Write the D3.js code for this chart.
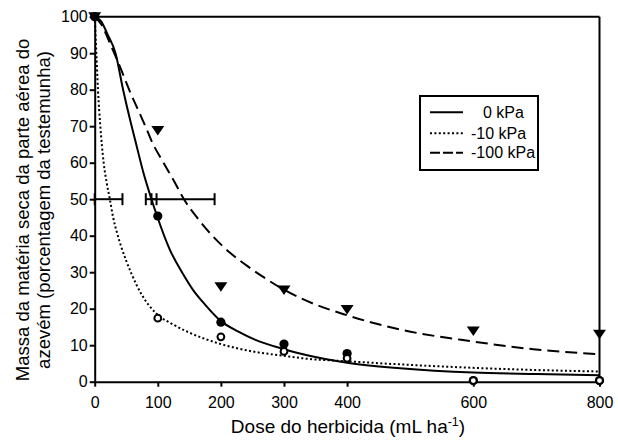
<!DOCTYPE html>
<html>
<head>
<meta charset="utf-8">
<script src="https://cdn.jsdelivr.net/npm/d3@7"></script>
<style>
  html, body { margin: 0; padding: 0; background: #fff; }
  svg { display: block; font-family: Arial, "Liberation Sans", sans-serif; }
</style>
</head>
<body>
<svg id="chart" width="618" height="444"></svg>
<script>
// ---- data ----
const doses = [0, 100, 200, 300, 400, 600, 800];
const obs0kPa = [100, 45.4, 16.3, 10.3, 7.7, 0.3, 0.3];      // filled circles
const obs10kPa = [100, 17.4, 12.3, 8.3, 6.4, 0.3, 0.3];      // open circles
const obs100kPa = [100, 68.8, 26.0, 25.1, 19.8, 13.9, 13.0]; // filled triangles

// fitted curves
const curve0X = [0, 10, 20, 33, 45, 58, 64, 77, 90, 98, 119, 140, 156, 174, 200, 227, 253, 300, 330, 400, 484, 600, 700, 800];
const curve0Y = [100, 98.8, 95.3, 90, 80, 70.4, 66.3, 57.4, 50, 45.8, 36.2, 29.5, 25.1, 21.3, 16.6, 13.8, 11.6, 8.9, 7.5, 5.2, 3.7, 2.5, 2.1, 1.8];
const curve10X = [0, 2.6, 5.2, 8.9, 14.2, 19, 24, 29, 35, 42, 58, 74, 98, 123, 148, 200, 253, 300, 330, 400, 500, 600, 700, 800];
const curve10Y = [100, 90, 80, 70, 60, 54.5, 50, 45.2, 41, 37, 29.7, 24, 18.6, 15.8, 13.6, 10.3, 8.2, 7.1, 6.4, 5.6, 4.6, 3.8, 3.2, 2.8];
const curve100X = [0, 10, 26, 40, 57, 70, 82, 90, 109, 125, 140, 162, 188, 214, 241, 267, 294, 330, 400, 484, 600, 695, 800];
const curve100Y = [100, 98, 92, 86.3, 79, 74, 69.3, 66, 60, 55.2, 50.4, 45, 39.7, 35.4, 31.8, 28.7, 25.8, 22.6, 18.2, 14.3, 11, 8.9, 7.5];

// ED50 confidence intervals drawn at 50 %
const ciLow = [0, 81, 90];
const ciHigh = [44, 98, 190];
const ciLevel = 50;

const xTicks = [0, 100, 200, 300, 400, 600, 800];
const yTicks = [0, 10, 20, 30, 40, 50, 60, 70, 80, 90, 100];
const legendLabels = ["0 kPa", "-10 kPa", "-100 kPa"];

// ---- drawing ----
const svg = d3.select("#chart");
const x = d3.scaleLinear().domain([0, 800]).range([94.7, 599.5]);
const y = d3.scaleLinear().domain([0, 100]).range([381.7, 16.7]);

// axes
const yAxis = svg.append("g").attr("transform", `translate(${x(0)},0)`)
  .call(d3.axisLeft(y).tickValues(yTicks).tickSize(5).tickSizeOuter(0).tickPadding(2));
const xAxis = svg.append("g").attr("transform", `translate(0,${y(0)})`)
  .call(d3.axisBottom(x).tickValues(xTicks).tickSize(5).tickSizeOuter(0).tickPadding(10));
[yAxis, xAxis].forEach(g => {
  g.select(".domain").attr("stroke", "#000").attr("stroke-width", 2);
  g.selectAll(".tick line").attr("stroke", "#000").attr("stroke-width", 2);
  g.selectAll(".tick text").attr("fill", "#000").style("font-size", "16px")
   .style("font-family", "Arial, 'Liberation Sans', sans-serif");
});

// frame top & right
svg.append("line").attr("x1", x(0)).attr("x2", x(800)).attr("y1", y(100)).attr("y2", y(100))
  .attr("stroke", "#000").attr("stroke-width", 2);
svg.append("line").attr("x1", x(800)).attr("x2", x(800)).attr("y1", y(100)).attr("y2", y(0))
  .attr("stroke", "#000").attr("stroke-width", 2);

// curves
const line = d3.line().x(d => x(d[0])).y(d => y(d[1])).curve(d3.curveMonotoneX);
const curves = [
  { xs: curve0X, ys: curve0Y, dash: null },
  { xs: curve10X, ys: curve10Y, dash: "2,2.4" },
  { xs: curve100X, ys: curve100Y, dash: "12,6" }
];
curves.forEach(c => {
  svg.append("path").datum(c.xs.map((v, i) => [v, c.ys[i]]))
    .attr("d", line).attr("fill", "none").attr("stroke", "#000").attr("stroke-width", 2)
    .attr("stroke-dasharray", c.dash);
});

// confidence intervals
ciLow.forEach((lo, i) => {
  const g = svg.append("g");
  const yy = y(ciLevel);
  g.append("line").attr("x1", x(lo)).attr("x2", x(ciHigh[i])).attr("y1", yy).attr("y2", yy)
    .attr("stroke", "#000").attr("stroke-width", 2);
  [lo, ciHigh[i]].forEach(v => {
    g.append("line").attr("x1", x(v)).attr("x2", x(v)).attr("y1", yy - 6).attr("y2", yy + 6)
      .attr("stroke", "#000").attr("stroke-width", 2);
  });
});

// markers
const tri = "M-6.5,-4.5L6.5,-4.5L0,5Z";
svg.append("g").selectAll("path").data(doses.map((d, i) => [d, obs100kPa[i]])).join("path")
  .attr("d", tri).attr("transform", d => `translate(${x(d[0])},${y(d[1])})`).attr("fill", "#000");
svg.append("g").selectAll("circle").data(doses.map((d, i) => [d, obs0kPa[i]])).join("circle")
  .attr("cx", d => x(d[0])).attr("cy", d => y(d[1])).attr("r", 4.6).attr("fill", "#000");
svg.append("g").selectAll("circle").data(doses.map((d, i) => [d, obs10kPa[i]]).filter(d => d[0] > 0)).join("circle")
  .attr("cx", d => x(d[0])).attr("cy", d => y(d[1])).attr("r", 3.4).attr("fill", "#fff")
  .attr("stroke", "#000").attr("stroke-width", 2);

// legend
const lg = svg.append("g");
lg.append("rect").attr("x", 420).attr("y", 96).attr("width", 118).attr("height", 74)
  .attr("fill", "#fff").attr("stroke", "#000").attr("stroke-width", 2);
const legendDash = [null, "2,2.4", "10,3"];
const legendY = [112.3, 133.3, 152.7];
const legendTextX = [483, 471, 471];
legendLabels.forEach((t, i) => {
  lg.append("line").attr("x1", 430).attr("x2", 463).attr("y1", legendY[i]).attr("y2", legendY[i])
    .attr("stroke", "#000").attr("stroke-width", 2).attr("stroke-dasharray", legendDash[i]);
  lg.append("text").attr("x", legendTextX[i]).attr("y", legendY[i]).attr("dy", "0.35em")
    .style("font-size", "16px").text(t);
});

// axis titles
const xt = svg.append("text").attr("x", 348).attr("y", 433.3).attr("text-anchor", "middle")
  .style("font-size", "19px");
xt.append("tspan").text("Dose do herbicida (mL ha");
xt.append("tspan").attr("dy", -7).style("font-size", "12.5px").text("-1");
xt.append("tspan").attr("dy", 7).text(")");

const ytitle = ["Massa da matéria seca da parte aérea do", "azevém (porcentagem da testemunha)"];
const ytBase = [28.5, 50];
ytitle.forEach((t, i) => {
  svg.append("text").attr("transform", `translate(${ytBase[i]},210) rotate(-90)`)
    .attr("text-anchor", "middle").style("font-size", "18.5px").text(t);
});
</script>
</body>
</html>
